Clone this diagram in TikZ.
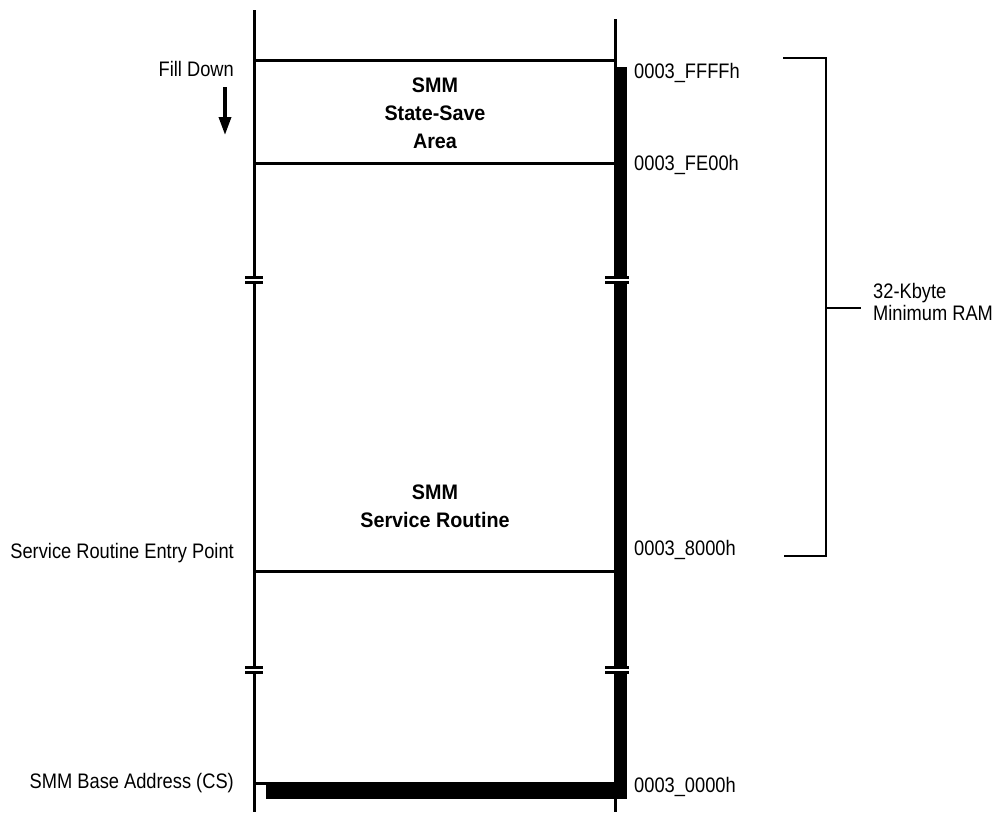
\documentclass[tikz,border=0pt]{standalone}
\usepackage{fontspec}
\setmainfont[FakeStretch=0.87]{Liberation Sans}
\newfontfamily\blockfont[FakeStretch=0.94]{Liberation Sans}
\usetikzlibrary{
  arrows.meta
  , calc
  , positioning
}
\tikzset{
  wall/.style={line width=3pt},
  addr/.style={anchor=base west, inner sep=0pt,
    font=\fontsize{21}{22}\selectfont},
  pointer/.style={anchor=base east, inner sep=0pt,
    font=\fontsize{21}{22}\selectfont},
  blocktext/.style={anchor=base, inner sep=0pt, align=center,
    font=\blockfont\bfseries\fontsize{21}{28}\selectfont},
}

\begin{document}
\begin{tikzpicture}[x=1pt, y=-1pt]
  \useasboundingbox (0,0) rectangle (1002,812);

  % walls of the memory block
  \coordinate (Ltop) at (254.5,10);
  \coordinate (Lbot) at (254.5,812);
  \coordinate (Rtop) at (615.5,19);
  \coordinate (Rbot) at (615.5,812);
  \draw [wall] (Ltop) -- (Lbot);
  \draw [line width=2.5pt] (Rtop) -- (Rbot);
  \fill (614,67) rectangle (627,799);

  % region edges
  \draw [wall] (253,60) -- (617,60);
  \draw [wall] (253,163) -- (614,163);
  \draw [wall] (253,571) -- (614,571);
  \draw [wall] (253,783) -- (614,783);
  \fill (266,782) rectangle (627,799);

  % breaks in the walls
  \foreach \yb in {280,670} {
    \fill [white] (240,\yb-1.2) rectangle (634,\yb+1.2);
    \draw [line width=2.7pt] (245,\yb-2.5) -- (263,\yb-2.5)
      (245,\yb+2.5) -- (263,\yb+2.5);
    \draw [line width=2.7pt] (605,\yb-2.5) -- (629,\yb-2.5)
      (605,\yb+2.5) -- (629,\yb+2.5);
  }

  % block texts (base = last line)
  \node [blocktext] (ssa) at (435,148) {SMM\\State-Save\\Area};
  \node [blocktext] (svc) at (435,527) {SMM\\Service Routine};

  % addresses
  \node [addr] (ffff) at (634,78) {0003\_FFFFh};
  \node [addr] (fe00) at (634,170) {0003\_FE00h};
  \node [addr] (a8000) at (634,555) {0003\_8000h};
  \node [addr] (a0000) at (634,792) {0003\_0000h};

  % pointers on the left
  \node [pointer] (fill) at (234,76) {Fill Down};
  \node [pointer] (entry) at (234,558) {Service Routine Entry Point};
  \node [pointer] (base) at (234,788) {SMM Base Address (CS)};
  \coordinate (arrtop) at (225,87);
  \coordinate (arrbot) at (225,135);
  \draw [line width=3.5pt, -{Triangle[length=18pt, width=12pt]}]
    (arrtop) -- (arrbot);

  % size bracket
  \coordinate (brtop) at (783,58);
  \coordinate (brbot) at (826,556);
  \coordinate (brmid) at (826,308);
  \draw [line width=2.5pt] (brtop) -| (brbot) -- (784,556);
  \draw [line width=2.5pt] (brmid) -- ++(35,0) coordinate (brtip);
  \node [addr, align=left] (ram) at (873,320) {32-Kbyte\\Minimum RAM};
\end{tikzpicture}
\end{document}
